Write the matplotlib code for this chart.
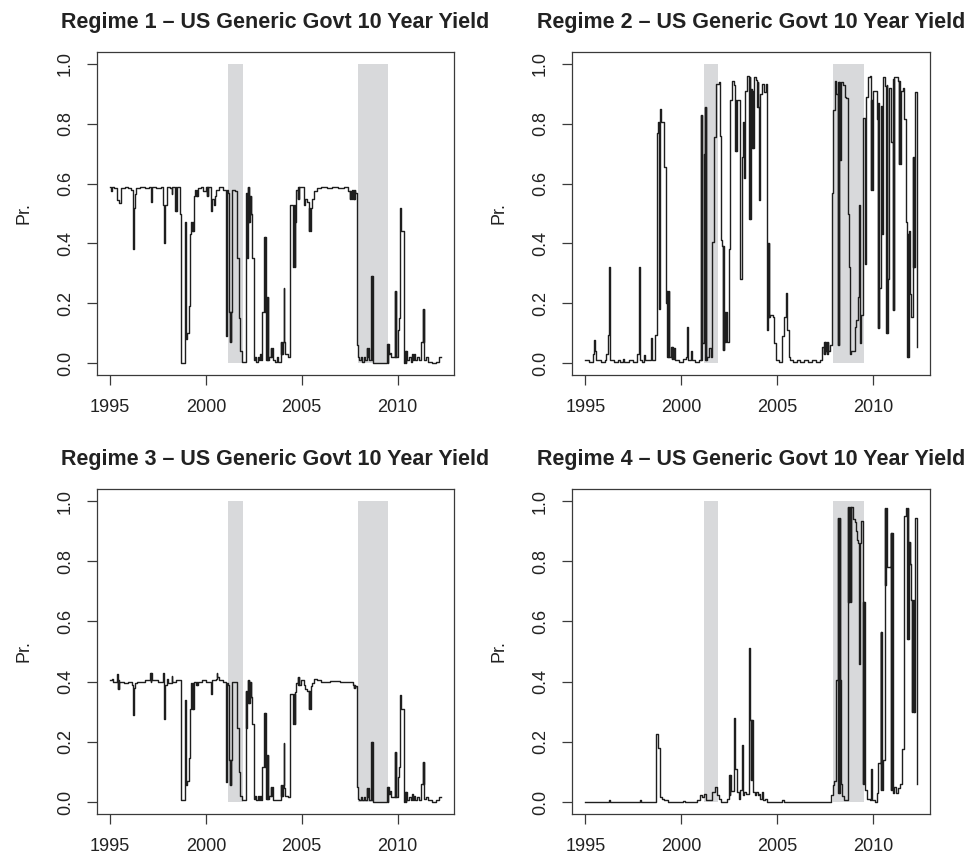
import matplotlib
matplotlib.use("Agg")
import matplotlib.pyplot as plt

plt.rcParams['font.family'] = ['Liberation Sans', 'DejaVu Sans']

TITLES = ["Regime 1 – US Generic Govt 10 Year Yield",
          "Regime 2 – US Generic Govt 10 Year Yield",
          "Regime 3 – US Generic Govt 10 Year Yield",
          "Regime 4 – US Generic Govt 10 Year Yield"]
YLABEL = "Pr."
XTICKS = [1995, 2000, 2005, 2010]
YTICKS = [0.0, 0.2, 0.4, 0.6, 0.8, 1.0]
YTICKLABELS = ["0.0", "0.2", "0.4", "0.6", "0.8", "1.0"]
REC_START = [2001.17, 2007.92]
REC_END = [2001.92, 2009.50]

R1 = [
(1995.00, 0.59), (1995.06, 0.575), (1995.10, 0.59), (1995.20, 0.585), (1995.33, 0.56), (1995.38, 0.545),
(1995.46, 0.535), (1995.56, 0.585), (1995.75, 0.59), (1995.95, 0.585), (1996.10, 0.58), (1996.20, 0.38),
(1996.23, 0.52), (1996.28, 0.565), (1996.33, 0.585), (1996.55, 0.59), (1996.80, 0.585), (1997.00, 0.59),
(1997.12, 0.54), (1997.16, 0.59), (1997.40, 0.585), (1997.65, 0.59), (1997.78, 0.53), (1997.82, 0.40),
(1997.86, 0.53), (1997.97, 0.59), (1998.10, 0.585), (1998.20, 0.565), (1998.25, 0.59), (1998.40, 0.51),
(1998.42, 0.59), (1998.44, 0.51), (1998.47, 0.59), (1998.62, 0.50), (1998.72, 0.00), (1998.88, 0.47),
(1998.90, 0.08), (1998.92, 0.47), (1998.94, 0.08), (1998.96, 0.47), (1998.98, 0.08), (1999.02, 0.10),
(1999.10, 0.19), (1999.16, 0.43), (1999.24, 0.47), (1999.27, 0.44), (1999.30, 0.47), (1999.33, 0.44),
(1999.38, 0.56), (1999.45, 0.58), (1999.50, 0.56), (1999.52, 0.58), (1999.54, 0.56), (1999.58, 0.585),
(1999.75, 0.59), (1999.85, 0.575), (1999.98, 0.59), (2000.05, 0.56), (2000.07, 0.59), (2000.10, 0.56),
(2000.13, 0.59), (2000.28, 0.51), (2000.32, 0.55), (2000.44, 0.53), (2000.47, 0.56), (2000.52, 0.58),
(2000.70, 0.59), (2000.90, 0.58), (2001.02, 0.09), (2001.04, 0.58), (2001.06, 0.09), (2001.08, 0.58),
(2001.14, 0.57), (2001.22, 0.17), (2001.25, 0.07), (2001.27, 0.17), (2001.29, 0.07), (2001.31, 0.17),
(2001.34, 0.58), (2001.50, 0.575), (2001.62, 0.35), (2001.72, 0.15), (2001.80, 0.04), (2001.88, 0.005),
(2002.08, 0.35), (2002.10, 0.57), (2002.12, 0.35), (2002.14, 0.57), (2002.16, 0.35), (2002.20, 0.59),
(2002.22, 0.47), (2002.24, 0.59), (2002.26, 0.47), (2002.30, 0.56), (2002.32, 0.50), (2002.34, 0.56),
(2002.36, 0.50), (2002.40, 0.35), (2002.52, 0.01), (2002.58, 0.02), (2002.63, 0.005), (2002.70, 0.02),
(2002.76, 0.01), (2002.82, 0.03), (2002.88, 0.01), (2002.95, 0.17), (2003.05, 0.42), (2003.08, 0.17),
(2003.10, 0.42), (2003.14, 0.01), (2003.18, 0.22), (2003.20, 0.01), (2003.22, 0.22), (2003.24, 0.01),
(2003.30, 0.02), (2003.38, 0.05), (2003.42, 0.02), (2003.46, 0.05), (2003.52, 0.01), (2003.62, 0.005),
(2003.70, 0.02), (2003.78, 0.005), (2003.92, 0.07), (2003.94, 0.03), (2003.96, 0.07), (2003.98, 0.03),
(2004.00, 0.07), (2004.05, 0.25), (2004.09, 0.07), (2004.14, 0.03), (2004.30, 0.02), (2004.40, 0.53),
(2004.55, 0.32), (2004.57, 0.53), (2004.59, 0.32), (2004.61, 0.53), (2004.63, 0.32), (2004.66, 0.47),
(2004.72, 0.58), (2004.80, 0.55), (2004.82, 0.59), (2004.84, 0.55), (2004.86, 0.59), (2004.95, 0.59),
(2005.10, 0.53), (2005.18, 0.55), (2005.30, 0.54), (2005.38, 0.44), (2005.40, 0.52), (2005.42, 0.44),
(2005.46, 0.52), (2005.55, 0.55), (2005.65, 0.575), (2005.80, 0.585), (2006.00, 0.59), (2006.30, 0.585),
(2006.60, 0.59), (2006.90, 0.585), (2007.20, 0.59), (2007.40, 0.575), (2007.50, 0.55), (2007.52, 0.575),
(2007.55, 0.55), (2007.60, 0.58), (2007.70, 0.55), (2007.72, 0.58), (2007.74, 0.55), (2007.76, 0.58),
(2007.80, 0.57), (2007.88, 0.06), (2007.93, 0.02), (2008.00, 0.01), (2008.08, 0.02), (2008.15, 0.005),
(2008.25, 0.02), (2008.32, 0.01), (2008.40, 0.05), (2008.43, 0.02), (2008.46, 0.05), (2008.50, 0.01),
(2008.64, 0.29), (2008.66, 0.01), (2008.68, 0.29), (2008.72, 0.0), (2009.46, 0.065), (2009.48, 0.0),
(2009.50, 0.065), (2009.55, 0.03), (2009.62, 0.035), (2009.66, 0.02), (2009.86, 0.24), (2009.88, 0.02),
(2009.90, 0.24), (2009.94, 0.02), (2010.00, 0.11), (2010.08, 0.15), (2010.14, 0.52), (2010.20, 0.44),
(2010.36, 0.0), (2010.40, 0.04), (2010.42, 0.0), (2010.44, 0.04), (2010.48, 0.01), (2010.58, 0.02),
(2010.68, 0.005), (2010.75, 0.03), (2010.80, 0.01), (2010.86, 0.03), (2010.92, 0.01), (2011.00, 0.02),
(2011.10, 0.01), (2011.25, 0.07), (2011.32, 0.18), (2011.34, 0.07), (2011.36, 0.18), (2011.40, 0.01),
(2011.48, 0.02), (2011.60, 0.005), (2011.80, 0.0), (2012.00, 0.005), (2012.18, 0.02), (2012.28, 0.02)]

R2 = [
(1995.00, 0.01), (1995.20, 0.005), (1995.38, 0.03), (1995.45, 0.078), (1995.52, 0.04), (1995.58, 0.01),
(1995.80, 0.005), (1996.05, 0.01), (1996.10, 0.03), (1996.17, 0.095), (1996.22, 0.32), (1996.24, 0.095),
(1996.26, 0.32), (1996.30, 0.01), (1996.50, 0.005), (1996.70, 0.01), (1996.80, 0.005), (1996.95, 0.015),
(1997.00, 0.005), (1997.30, 0.01), (1997.50, 0.005), (1997.72, 0.03), (1997.80, 0.32), (1997.84, 0.01),
(1997.95, 0.005), (1998.05, 0.028), (1998.12, 0.01), (1998.40, 0.083), (1998.42, 0.01), (1998.44, 0.083),
(1998.48, 0.01), (1998.62, 0.094), (1998.72, 0.77), (1998.80, 0.805), (1998.82, 0.18), (1998.84, 0.805),
(1998.86, 0.18), (1998.88, 0.85), (1998.92, 0.805), (1999.02, 0.805), (1999.10, 0.655), (1999.18, 0.20),
(1999.26, 0.24), (1999.28, 0.02), (1999.30, 0.24), (1999.32, 0.02), (1999.34, 0.24), (1999.38, 0.02),
(1999.48, 0.055), (1999.50, 0.015), (1999.52, 0.055), (1999.56, 0.015), (1999.60, 0.05), (1999.65, 0.01),
(1999.90, 0.005), (2000.10, 0.015), (2000.25, 0.02), (2000.30, 0.12), (2000.36, 0.01), (2000.48, 0.04),
(2000.50, 0.01), (2000.52, 0.04), (2000.58, 0.01), (2000.70, 0.005), (2000.90, 0.01), (2001.02, 0.83),
(2001.04, 0.01), (2001.06, 0.83), (2001.10, 0.067), (2001.16, 0.70), (2001.24, 0.855), (2001.26, 0.01),
(2001.28, 0.855), (2001.30, 0.01), (2001.36, 0.02), (2001.46, 0.05), (2001.54, 0.02), (2001.62, 0.405),
(2001.72, 0.755), (2001.82, 0.933), (2001.95, 0.94), (2002.03, 0.76), (2002.08, 0.41), (2002.14, 0.39),
(2002.16, 0.044), (2002.18, 0.39), (2002.20, 0.044), (2002.24, 0.17), (2002.26, 0.07), (2002.28, 0.17),
(2002.30, 0.07), (2002.33, 0.17), (2002.38, 0.07), (2002.48, 0.38), (2002.56, 0.878), (2002.65, 0.944),
(2002.75, 0.93), (2002.80, 0.88), (2002.82, 0.71), (2002.84, 0.88), (2002.86, 0.71), (2002.90, 0.88),
(2003.08, 0.28), (2003.16, 0.69), (2003.22, 0.805), (2003.24, 0.62), (2003.26, 0.805), (2003.28, 0.62),
(2003.34, 0.91), (2003.44, 0.96), (2003.54, 0.48), (2003.56, 0.955), (2003.58, 0.48), (2003.62, 0.917),
(2003.70, 0.72), (2003.72, 0.91), (2003.74, 0.72), (2003.78, 0.955), (2003.88, 0.945), (2003.96, 0.855),
(2003.98, 0.94), (2004.00, 0.855), (2004.06, 0.544), (2004.12, 0.90), (2004.22, 0.933), (2004.32, 0.905),
(2004.40, 0.933), (2004.48, 0.11), (2004.52, 0.40), (2004.54, 0.155), (2004.56, 0.40), (2004.58, 0.155),
(2004.62, 0.16), (2004.75, 0.155), (2004.83, 0.067), (2004.92, 0.01), (2005.10, 0.005), (2005.25, 0.09),
(2005.35, 0.155), (2005.44, 0.233), (2005.52, 0.11), (2005.60, 0.02), (2005.66, 0.01), (2005.80, 0.005),
(2006.00, 0.01), (2006.20, 0.005), (2006.40, 0.01), (2006.60, 0.005), (2006.80, 0.01), (2007.00, 0.005),
(2007.20, 0.01), (2007.35, 0.055), (2007.42, 0.03), (2007.44, 0.07), (2007.46, 0.03), (2007.48, 0.07),
(2007.52, 0.04), (2007.58, 0.07), (2007.60, 0.03), (2007.62, 0.07), (2007.66, 0.04), (2007.72, 0.06),
(2007.84, 0.57), (2007.92, 0.845), (2007.98, 0.944), (2008.06, 0.90), (2008.16, 0.06), (2008.18, 0.94),
(2008.20, 0.06), (2008.22, 0.94), (2008.24, 0.68), (2008.32, 0.94), (2008.42, 0.93), (2008.50, 0.89),
(2008.52, 0.93), (2008.54, 0.89), (2008.58, 0.885), (2008.66, 0.50), (2008.74, 0.32), (2008.76, 0.03),
(2008.78, 0.32), (2008.80, 0.03), (2008.84, 0.04), (2009.02, 0.12), (2009.10, 0.145), (2009.18, 0.22),
(2009.27, 0.53), (2009.29, 0.067), (2009.31, 0.53), (2009.33, 0.067), (2009.37, 0.16), (2009.45, 0.82),
(2009.54, 0.33), (2009.56, 0.82), (2009.58, 0.33), (2009.62, 0.89), (2009.70, 0.955), (2009.80, 0.96),
(2009.88, 0.58), (2009.90, 0.88), (2009.92, 0.58), (2009.96, 0.91), (2010.09, 0.91), (2010.17, 0.817),
(2010.24, 0.117), (2010.26, 0.87), (2010.28, 0.117), (2010.32, 0.25), (2010.40, 0.43), (2010.42, 0.86),
(2010.44, 0.43), (2010.50, 0.955), (2010.60, 0.925), (2010.68, 0.10), (2010.70, 0.93), (2010.72, 0.10),
(2010.76, 0.28), (2010.84, 0.92), (2010.94, 0.74), (2011.02, 0.178), (2011.04, 0.95), (2011.06, 0.178),
(2011.10, 0.955), (2011.30, 0.944), (2011.34, 0.667), (2011.36, 0.944), (2011.38, 0.667), (2011.44, 0.91),
(2011.56, 0.92), (2011.62, 0.817), (2011.70, 0.47), (2011.76, 0.02), (2011.78, 0.43), (2011.80, 0.02),
(2011.84, 0.44), (2011.90, 0.23), (2011.96, 0.155), (2012.06, 0.69), (2012.08, 0.32), (2012.10, 0.69),
(2012.12, 0.32), (2012.16, 0.905), (2012.28, 0.055)]

R3 = [
(1995.00, 0.405), (1995.08, 0.41), (1995.12, 0.40), (1995.33, 0.425), (1995.35, 0.40), (1995.37, 0.425),
(1995.40, 0.375), (1995.42, 0.405), (1995.44, 0.375), (1995.47, 0.40), (1995.70, 0.395), (1995.95, 0.40),
(1996.12, 0.39), (1996.20, 0.29), (1996.23, 0.38), (1996.28, 0.395), (1996.40, 0.40), (1996.80, 0.405),
(1997.10, 0.43), (1997.12, 0.40), (1997.14, 0.43), (1997.17, 0.405), (1997.50, 0.40), (1997.76, 0.43),
(1997.79, 0.40), (1997.82, 0.275), (1997.86, 0.39), (1997.95, 0.41), (1998.00, 0.395), (1998.20, 0.42),
(1998.24, 0.40), (1998.45, 0.405), (1998.72, 0.005), (1998.88, 0.34), (1998.90, 0.055), (1998.92, 0.34),
(1998.94, 0.055), (1998.96, 0.34), (1998.98, 0.055), (1999.02, 0.07), (1999.10, 0.145), (1999.16, 0.31),
(1999.24, 0.395), (1999.27, 0.31), (1999.30, 0.395), (1999.33, 0.31), (1999.38, 0.40), (1999.50, 0.39),
(1999.52, 0.40), (1999.55, 0.39), (1999.60, 0.40), (1999.80, 0.405), (2000.00, 0.40), (2000.28, 0.36),
(2000.32, 0.405), (2000.50, 0.41), (2000.55, 0.43), (2000.58, 0.415), (2000.70, 0.405), (2000.90, 0.40),
(2001.02, 0.067), (2001.04, 0.40), (2001.06, 0.067), (2001.09, 0.395), (2001.14, 0.39), (2001.22, 0.14),
(2001.25, 0.055), (2001.27, 0.14), (2001.29, 0.055), (2001.31, 0.14), (2001.34, 0.40), (2001.50, 0.40),
(2001.62, 0.245), (2001.72, 0.10), (2001.80, 0.02), (2001.88, 0.005), (2002.08, 0.37), (2002.10, 0.245),
(2002.12, 0.37), (2002.14, 0.245), (2002.16, 0.37), (2002.20, 0.405), (2002.22, 0.33), (2002.24, 0.405),
(2002.26, 0.33), (2002.30, 0.40), (2002.32, 0.35), (2002.34, 0.40), (2002.36, 0.35), (2002.40, 0.26),
(2002.52, 0.01), (2002.58, 0.02), (2002.63, 0.005), (2002.70, 0.02), (2002.76, 0.005), (2002.82, 0.02),
(2002.88, 0.005), (2002.95, 0.117), (2003.05, 0.295), (2003.08, 0.117), (2003.10, 0.295), (2003.14, 0.01),
(2003.18, 0.156), (2003.20, 0.01), (2003.22, 0.156), (2003.24, 0.01), (2003.30, 0.02), (2003.38, 0.05),
(2003.42, 0.02), (2003.46, 0.05), (2003.52, 0.005), (2003.92, 0.055), (2003.94, 0.02), (2003.96, 0.055),
(2003.98, 0.02), (2004.00, 0.055), (2004.05, 0.195), (2004.09, 0.045), (2004.14, 0.02), (2004.30, 0.015),
(2004.40, 0.36), (2004.55, 0.26), (2004.57, 0.36), (2004.59, 0.26), (2004.61, 0.36), (2004.63, 0.26),
(2004.66, 0.367), (2004.72, 0.395), (2004.80, 0.415), (2004.82, 0.39), (2004.84, 0.415), (2004.86, 0.39),
(2004.95, 0.405), (2005.10, 0.39), (2005.18, 0.375), (2005.30, 0.37), (2005.38, 0.31), (2005.40, 0.37),
(2005.42, 0.31), (2005.46, 0.385), (2005.55, 0.395), (2005.65, 0.408), (2005.80, 0.405), (2006.00, 0.40),
(2006.50, 0.402), (2007.00, 0.40), (2007.40, 0.398), (2007.70, 0.39), (2007.72, 0.38), (2007.74, 0.39),
(2007.76, 0.38), (2007.80, 0.385), (2007.88, 0.05), (2007.93, 0.01), (2008.00, 0.005), (2008.08, 0.015),
(2008.15, 0.005), (2008.25, 0.015), (2008.32, 0.005), (2008.40, 0.045), (2008.43, 0.015), (2008.46, 0.045),
(2008.50, 0.005), (2008.64, 0.20), (2008.66, 0.005), (2008.68, 0.20), (2008.72, 0.0), (2009.46, 0.05),
(2009.48, 0.0), (2009.50, 0.05), (2009.55, 0.025), (2009.62, 0.035), (2009.66, 0.015), (2009.86, 0.167),
(2009.88, 0.015), (2009.90, 0.167), (2009.94, 0.015), (2010.00, 0.083), (2010.08, 0.117), (2010.14, 0.356),
(2010.20, 0.31), (2010.36, 0.0), (2010.40, 0.033), (2010.42, 0.0), (2010.44, 0.033), (2010.48, 0.005),
(2010.58, 0.015), (2010.68, 0.005), (2010.75, 0.025), (2010.80, 0.005), (2010.86, 0.02), (2010.92, 0.005),
(2011.00, 0.015), (2011.10, 0.005), (2011.25, 0.06), (2011.32, 0.133), (2011.34, 0.06), (2011.36, 0.133),
(2011.40, 0.01), (2011.48, 0.015), (2011.60, 0.005), (2011.80, 0.0), (2012.00, 0.005), (2012.18, 0.017),
(2012.28, 0.017)]

R4 = [
(1995.00, 0.0), (1996.25, 0.005), (1996.30, 0.0), (1997.85, 0.005), (1997.90, 0.0), (1998.70, 0.226),
(1998.80, 0.18), (1998.90, 0.015), (1998.98, 0.011), (1999.10, 0.005), (1999.30, 0.0), (2000.10, 0.003),
(2000.20, 0.0), (2000.80, 0.008), (2001.00, 0.022), (2001.10, 0.015), (2001.20, 0.026), (2001.30, 0.005),
(2001.62, 0.033), (2001.75, 0.05), (2001.85, 0.022), (2001.95, 0.01), (2002.05, 0.0), (2002.40, 0.01),
(2002.50, 0.09), (2002.53, 0.022), (2002.55, 0.09), (2002.60, 0.035), (2002.76, 0.28), (2002.82, 0.11),
(2002.90, 0.033), (2002.98, 0.01), (2003.06, 0.04), (2003.16, 0.19), (2003.20, 0.022), (2003.28, 0.033),
(2003.38, 0.028), (2003.50, 0.072), (2003.55, 0.51), (2003.60, 0.273), (2003.62, 0.072), (2003.64, 0.273),
(2003.66, 0.072), (2003.68, 0.273), (2003.72, 0.033), (2003.82, 0.022), (2003.90, 0.033), (2003.98, 0.022),
(2004.04, 0.028), (2004.12, 0.011), (2004.20, 0.033), (2004.28, 0.005), (2004.36, 0.011), (2004.44, 0.0),
(2005.25, 0.008), (2005.35, 0.0), (2007.78, 0.022), (2007.88, 0.056), (2007.96, 0.07), (2008.06, 0.404),
(2008.16, 0.943), (2008.18, 0.03), (2008.20, 0.943), (2008.22, 0.03), (2008.24, 0.943), (2008.26, 0.03),
(2008.28, 0.404), (2008.33, 0.06), (2008.35, 0.02), (2008.45, 0.005), (2008.68, 0.98), (2008.70, 0.665),
(2008.72, 0.98), (2008.74, 0.665), (2008.76, 0.98), (2008.78, 0.665), (2008.80, 0.98), (2008.82, 0.665),
(2008.84, 0.98), (2008.96, 0.94), (2009.02, 0.93), (2009.08, 0.90), (2009.14, 0.87), (2009.20, 0.86),
(2009.23, 0.46), (2009.25, 0.86), (2009.27, 0.46), (2009.29, 0.86), (2009.34, 0.935), (2009.46, 0.06),
(2009.48, 0.665), (2009.50, 0.06), (2009.52, 0.665), (2009.54, 0.06), (2009.56, 0.665), (2009.58, 0.04),
(2009.66, 0.01), (2009.80, 0.005), (2009.90, 0.11), (2009.94, 0.005), (2010.10, 0.0), (2010.18, 0.03),
(2010.26, 0.13), (2010.38, 0.565), (2010.40, 0.04), (2010.42, 0.565), (2010.45, 0.04), (2010.50, 0.14),
(2010.60, 0.977), (2010.62, 0.72), (2010.64, 0.977), (2010.66, 0.72), (2010.68, 0.977), (2010.72, 0.78),
(2010.90, 0.893), (2010.92, 0.04), (2010.94, 0.893), (2010.96, 0.04), (2010.98, 0.893), (2011.02, 0.03),
(2011.10, 0.05), (2011.18, 0.03), (2011.26, 0.045), (2011.38, 0.06), (2011.50, 0.176), (2011.58, 0.949),
(2011.68, 0.977), (2011.76, 0.543), (2011.78, 0.977), (2011.80, 0.543), (2011.84, 0.865), (2011.88, 0.79),
(2011.90, 0.865), (2011.92, 0.79), (2011.98, 0.67), (2012.00, 0.298), (2012.02, 0.67), (2012.04, 0.298),
(2012.06, 0.67), (2012.08, 0.298), (2012.10, 0.67), (2012.12, 0.298), (2012.16, 0.943), (2012.28, 0.06)]

SERIES = [R1, R2, R3, R4]

W, H = 973, 856
fig = plt.figure(figsize=(W / 100, H / 100), dpi=100)
fig.patch.set_facecolor("white")

# axes boxes in pixels: left, top, right, bottom
BOXES = [(97, 52, 454, 375), (572, 52, 930, 375),
         (97, 489, 454, 814), (572, 489, 930, 814)]

LINE_C = "#1e1e1e"
SHADE_C = "#d8d9db"
AX_C = "#3a3a3a"

for i, (box, data, title) in enumerate(zip(BOXES, SERIES, TITLES)):
    l, t, r, b = box
    ax = fig.add_axes([l / W, 1 - b / H, (r - l) / W, (b - t) / H])
    for s, e in zip(REC_START, REC_END):
        ax.fill_between([s, e], [0, 0], [1, 1], color=SHADE_C, lw=0, zorder=1)
    xs = [p[0] for p in data]
    ys = [p[1] for p in data]
    ax.plot(xs, ys, drawstyle="steps-post", color=LINE_C, lw=1.0, zorder=3)
    ax.set_xlim(1994.31, 2012.95)
    ax.set_ylim(-0.04, 1.04)
    ax.set_xticks(XTICKS)
    ax.set_xticklabels([str(x) for x in XTICKS])
    ax.set_yticks(YTICKS)
    ax.set_yticklabels(YTICKLABELS, rotation=90, va="center")
    ax.tick_params(axis="both", direction="out", length=7.5, width=0.9,
                   color=AX_C, labelsize=13, labelcolor="#222222")
    ax.tick_params(axis="x", pad=10)
    ax.tick_params(axis="y", pad=9)
    for sp in ax.spines.values():
        sp.set_color(AX_C)
        sp.set_linewidth(0.9)
    ax.set_ylabel(YLABEL, fontsize=13, color="#222222", labelpad=18)
    ax.set_title(title, fontsize=15.5, fontweight="bold", color="#222222", pad=17)

fig.savefig("out.png", dpi=100, facecolor="white")
